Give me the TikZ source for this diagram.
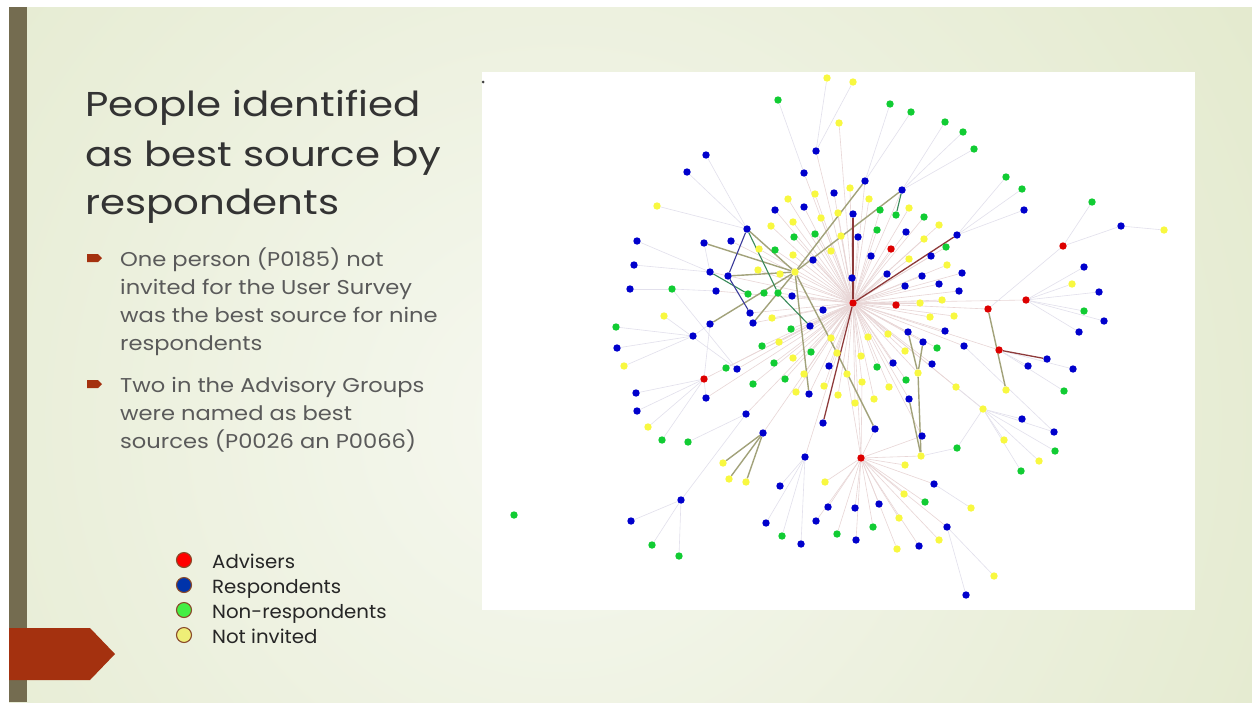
\documentclass[tikz,border=0pt]{standalone}
\usepackage{fontspec}
\setmainfont{Poppins}
\pgfdeclarelayer{bglayer}
\pgfdeclarelayer{edgelayer}
\pgfsetlayers{bglayer,edgelayer,main}
\definecolor{slideA}{HTML}{F6F8F0}
\definecolor{slideB}{HTML}{DCE4C0}
\definecolor{barC}{HTML}{746C50}
\definecolor{arrowC}{HTML}{A4310F}
\definecolor{titleC}{HTML}{333333}
\definecolor{bodyC}{HTML}{5A5A5A}
\definecolor{legC}{HTML}{262626}
\definecolor{nBlue}{HTML}{0000CC}
\definecolor{nGreen}{HTML}{11CC33}
\definecolor{nYellow}{HTML}{F8F840}
\definecolor{nRed}{HTML}{DD0000}
\definecolor{lRed}{HTML}{FF0000}
\definecolor{lBlue}{HTML}{0033AA}
\definecolor{lGreen}{HTML}{44EE44}
\definecolor{lYellow}{HTML}{EEEE77}
\definecolor{lEdge}{HTML}{8A4A2A}
\definecolor{faintR}{HTML}{E8D6D6}
\definecolor{faintL}{HTML}{E2E0EC}
\definecolor{oliveC}{HTML}{A2A27A}
\definecolor{dredC}{HTML}{8E3A3A}
\definecolor{dgreenC}{HTML}{3A8A5A}
\definecolor{dblueC}{HTML}{3A3A9A}
\newcommand{\wideT}[1]{\scalebox{1.17}[1]{#1}}
\newcommand{\wideB}[1]{\scalebox{1.13}[1]{#1}}
\newcommand{\wideL}[1]{\scalebox{1.04}[1]{#1}}
\tikzset{
  netdot/.style={circle,inner sep=0pt,minimum size=7.4pt},
  bdot/.style={netdot,fill=nBlue},
  gdot/.style={netdot,fill=nGreen},
  ydot/.style={netdot,fill=nYellow},
  rdot/.style={netdot,fill=nRed},
  faintr/.style={draw=faintR,line width=0.6pt},
  faintl/.style={draw=faintL,line width=0.6pt},
  oliveline/.style={draw=oliveC,line width=1.4pt},
  dredline/.style={draw=dredC,line width=1.3pt},
  dgreenline/.style={draw=dgreenC,line width=1.1pt},
  dblueline/.style={draw=dblueC,line width=1.1pt},
  titletext/.style={anchor=base west,inner sep=0pt,text=titleC,font=\fontsize{34.5}{40}\selectfont},
  bodytext/.style={anchor=base west,inner sep=0pt,text=bodyC,font=\fontsize{20}{24}\selectfont},
  legtext/.style={anchor=base west,inner sep=0pt,text=legC,font=\fontsize{19}{23}\selectfont},
  legdot/.style={circle,inner sep=0pt,minimum size=15pt,draw=lEdge,line width=1.1pt},
}
\begin{document}
\begin{tikzpicture}[x=1pt,y=-1pt]
\useasboundingbox (0,0) rectangle (1252,702);
\begin{pgfonlayer}{bglayer}
\fill[white] (0,0) rectangle (1252,702);
\begin{scope}
\clip (9,7) rectangle (1252,702);
\shade[inner color=slideA,outer color=slideB] (560,420) circle (1150);
\end{scope}
\fill[barC] (9,7) rectangle (27,702);
\fill[arrowC] (9,628) -- (90,628) -- (115,654) -- (90,680) -- (9,680) -- cycle;
\fill[white] (482,72) rectangle (1195,610);
\fill[arrowC] (87,254) -- (98,254) -- (102,258) -- (98,262) -- (87,262) -- cycle;
\fill[arrowC] (87,380) -- (98,380) -- (102,384) -- (98,388) -- (87,388) -- cycle;
\end{pgfonlayer}

% text
\node[titletext] (t1) at (85,116) {\wideT{People identified}};
\node[titletext] (t2) at (85,166) {\wideT{as best source by}};
\node[titletext] (t3) at (85,214) {\wideT{respondents}};
\node[bodytext] (a1) at (120,266) {\wideB{One person (P0185) not}};
\node[bodytext] (a2) at (120,294) {\wideB{invited for the User Survey}};
\node[bodytext] (a3) at (120,322) {\wideB{was the best source for nine}};
\node[bodytext] (a4) at (120,350) {\wideB{respondents}};
\node[bodytext] (c1) at (120,392) {\wideB{Two in the Advisory Groups}};
\node[bodytext] (c2) at (120,420) {\wideB{were named as best}};
\node[bodytext] (c3) at (120,448) {\wideB{sources (P0026 an P0066)}};

% legend
\node[legdot,fill=lRed] (l1) at (184,560) {};
\node[legdot,fill=lBlue] (l2) at (184,585) {};
\node[legdot,fill=lGreen] (l3) at (184,610) {};
\node[legdot,fill=lYellow] (l4) at (184,635) {};
\node[legtext] (lt1) at (212,568) {\wideL{Advisers}};
\node[legtext] (lt2) at (212,593) {\wideL{Respondents}};
\node[legtext] (lt3) at (212,618) {\wideL{Non-respondents}};
\node[legtext] (lt4) at (212,643) {\wideL{Not invited}};

\node[circle,fill=black!75,inner sep=0pt,minimum size=3pt] (corner) at (483,82) {};

% network nodes
\foreach \n/\x/\y in {r0/853/303, r1/891/249, r2/896/305, r3/1063/246, r4/1026/300, r5/988/309, r6/999/350, r7/704/379, r8/861/458}
  \node[rdot] (\n) at (\x,\y) {};
\foreach \n/\x/\y in {b1/816/151, b2/706/155, b3/687/172, b4/804/173, b5/865/181, b6/902/190, b7/834/193, b8/775/210, b9/804/207, b10/853/214, b11/858/237, b12/747/229, b13/637/241, b14/704/243, b15/731/241, b16/813/260, b17/906/232, b18/957/235, b19/871/256, b20/931/256, b21/1024/210, b22/1121/226, b23/634/265, b24/710/272, b25/728/276, b26/852/278, b27/887/274, b28/922/276, b29/962/273, b30/905/286, b31/939/284, b32/959/291, b33/630/289, b34/716/291, b35/792/296, b36/823/310, b37/750/313, b38/753/323, b39/710/324, b40/693/336, b41/810/326, b42/617/348, b43/737/369, b44/829/366, b45/636/393, b46/809/394, b47/706/398, b48/637/411, b49/746/414, b50/823/423, b51/1084/267, b52/1099/292, b53/1104/321, b54/1079/332, b55/908/332, b56/945/331, b57/923/342, b58/964/346, b59/1047/359, b60/1028/366, b61/1073/369, b62/893/363, b63/932/364, b64/909/399, b65/875/429, b66/1022/419, b67/1054/432, b68/922/436, b69/763/433, b70/805/457, b71/780/486, b72/934/484, b73/828/507, b74/855/508, b75/879/504, b76/816/521, b77/766/523, b78/801/544, b79/856/540, b80/919/546, b81/947/527, b82/966/595, b83/681/500, b84/631/521}
  \node[bdot] (\n) at (\x,\y) {};
\foreach \n/\x/\y in {g1/778/100, g2/890/104, g3/911/112, g4/945/122, g5/963/132, g6/974/149, g7/1006/177, g8/1022/189, g9/1092/202, g10/880/210, g11/896/215, g12/924/217, g13/877/230, g14/794/237, g15/815/234, g16/775/250, g17/946/247, g18/672/289, g19/748/294, g20/764/293, g21/778/293, g22/616/327, g23/791/329, g24/762/346, g25/811/352, g26/937/348, g27/877/367, g28/726/368, g29/774/363, g30/785/379, g31/753/384, g32/906/380, g33/1084/311, g34/1064/391, g35/957/448, g36/1055/451, g37/1021/471, g38/662/440, g39/688/442, g40/925/502, g41/873/527, g42/837/534, g43/782/536, g44/652/545, g45/679/556, g46/514/515}
  \node[gdot] (\n) at (\x,\y) {};
\foreach \n/\x/\y in {y1/827/78, y2/853/82, y3/839/123, y4/850/188, y5/788/199, y6/815/194, y7/869/199, y8/657/206, y9/909/208, y10/821/218, y11/838/213, y12/771/226, y13/793/222, y14/939/225, y15/841/236, y16/924/239, y17/1164/230, y18/759/249, y19/793/255, y20/831/251, y21/909/259, y22/947/265, y23/758/270, y24/780/274, y25/795/272, y26/1072/284, y27/920/303, y28/942/300, y29/930/317, y30/954/316, y31/664/316, y32/772/318, y33/868/337, y34/888/334, y35/831/338, y36/779/342, y37/905/351, y38/837/353, y39/861/356, y40/793/358, y41/624/366, y42/804/374, y43/847/374, y44/918/373, y45/862/382, y46/824/386, y47/889/387, y48/956/387, y49/1006/390, y50/796/392, y51/838/395, y52/855/403, y53/874/399, y54/983/409, y55/648/427, y56/1004/440, y57/1039/461, y58/921/456, y59/905/465, y60/723/463, y61/729/479, y62/746/482, y63/825/482, y64/904/494, y65/971/508, y66/899/518, y67/897/549, y68/939/540, y69/994/576}
  \node[ydot] (\n) at (\x,\y) {};

\begin{pgfonlayer}{edgelayer}
% hub fan
\foreach \b in {b1,b4,b5,b6,y3,b9,b11,y4,y5,y6,y7,y10,y11,y12,y15,y20,b16,g15,g13,g10,y9,b17,r1,r2,b19,b20,y21,y22,b26,b27,b28,b29,b30,b31,b32,y27,y28,y29,y30,b36,b41,g23,y35,y33,y34,b55,b56,b57,g26,b58,y37,y38,y39,b62,g27,b63,y43,y44,y45,g32,y47,y48,b44,y46,y51,y52,y53,b64,b46,y50,y42,g30,g25,y40,b35,g21,y32,y36,g24,r4,r5,r6,r7,r8,b68,b70,b49,y54,g17,y16,y14,g12,y13,y19,g14,g16,b8,b7,g29,g28,g31,b43,b38,b37,y24,y23,y18,b69,b47,b34,b24,b15}
  \draw[faintr] (r0) -- (\b);
% other faint edges
\foreach \a/\b in {y1/b1, y2/b1, g1/b4, g2/b5, g3/b5, g4/b6, g5/b6, g6/b6, g7/b18, g8/b18, b21/b18, r3/g9, r3/b22, b22/y17, r3/r5, r4/b51, r4/y26, r4/b52, r4/g33, r4/b53, r4/b54, r6/b60, r6/b61, r6/g34, b2/b12, b3/b12, y8/b12, b13/b24, b23/b24, b14/b24, b33/g18, g18/b34, g18/b43, g22/b40, b42/b40, y41/b40, b40/b39, y31/b43, r7/b45, r7/b48, r7/y55, r7/g38, r7/b39, r7/b47, b49/g39, b49/b83, b83/b84, b83/g44, b83/g45, b70/b71, b70/b77, b70/g43, b70/b78, b72/y65, b81/y69, b81/b82, g35/y54, y54/y56, y54/g36, y54/y57, y54/g37, y54/b67, y54/b66, y48/y54, g35/y58, b58/b67}
  \draw[faintl] (\a) -- (\b);
\foreach \b in {y58, b68, y59, b72, y64, g40, b74, b75, y66, g41, b81, b79, y67, b80, y68, b73, b76, g42, y63, b65, y45, y43}
  \draw[faintr] (r8) -- (\b);
% strong edges
\foreach \a/\b in {y25/b14, y25/b12, y25/b25, y25/b5, y25/b6, y25/b39, y25/b38, y25/b46, y25/y38, y38/b65, b55/y44, b57/y44, y44/y58, b64/y58, r5/y49, b69/y60, b69/y61, b69/y62}
  \draw[oliveline] (\a) -- (\b);
\foreach \a/\b in {r0/b10, r0/b18, r0/b50, r6/b59}
  \draw[dredline] (\a) -- (\b);
\foreach \a/\b in {b12/g21, g21/b41, b24/g19, b6/g11}
  \draw[dgreenline] (\a) -- (\b);
\foreach \a/\b in {b12/b25, b25/b37}
  \draw[dblueline] (\a) -- (\b);
\end{pgfonlayer}
\end{tikzpicture}
\end{document}
